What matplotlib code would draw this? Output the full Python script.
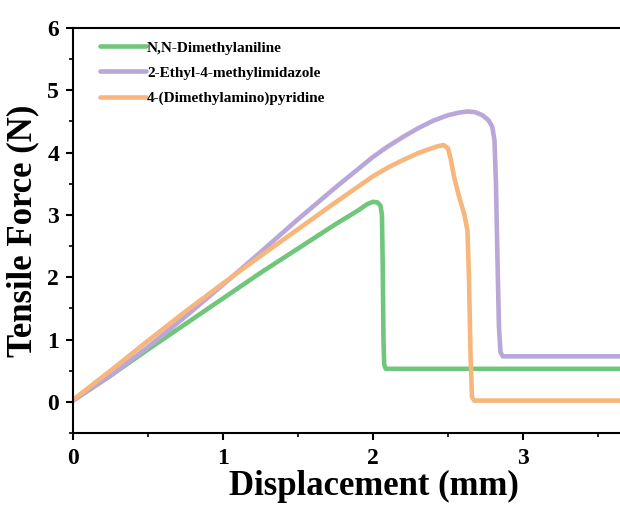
import matplotlib
matplotlib.use("Agg")
import matplotlib.pyplot as plt
from matplotlib.ticker import MultipleLocator

# Tensile force vs displacement for the three curing accelerators
labels = ["N,N-Dimethylaniline", "2-Ethyl-4-methylimidazole", "4-(Dimethylamino)pyridine"]
colors = ["#70c67b", "#b8a7d8", "#f7b67c"]

dma_x = [0, 0.25, 0.5, 0.75, 1.0, 1.25, 1.5, 1.75, 1.9, 1.96, 2.0, 2.03, 2.05, 2.06, 2.065, 2.07, 2.075, 2.085, 3.7]
dma_y = [0.02, 0.42, 0.84, 1.25, 1.66, 2.07, 2.46, 2.85, 3.07, 3.17, 3.21, 3.20, 3.15, 3.0, 2.2, 1.0, 0.6, 0.53, 0.53]

emi_x = [0, 0.25, 0.5, 0.75, 1.0, 1.25, 1.5, 1.75, 2.0, 2.1, 2.2, 2.3, 2.4, 2.5, 2.57, 2.63, 2.68, 2.73, 2.77,
         2.795, 2.81, 2.82, 2.83, 2.84, 2.85, 2.865, 3.7]
emi_y = [0.02, 0.42, 0.88, 1.37, 1.88, 2.40, 2.93, 3.44, 3.93, 4.10, 4.25, 4.39, 4.51, 4.60, 4.64, 4.66, 4.65, 4.60, 4.52,
         4.42, 4.2, 3.5, 2.3, 1.2, 0.8, 0.73, 0.73]

dmap_x = [0, 0.25, 0.5, 0.75, 1.0, 1.25, 1.5, 1.75, 2.0, 2.1, 2.2, 2.3, 2.38, 2.43, 2.47, 2.5, 2.52, 2.54, 2.57, 2.61,
          2.63, 2.64, 2.65, 2.66, 2.675, 3.7]
dmap_y = [0.03, 0.50, 0.98, 1.45, 1.90, 2.34, 2.77, 3.20, 3.62, 3.76, 3.88, 3.99, 4.06, 4.10, 4.12, 4.07, 3.88, 3.62, 3.33, 3.00,
          2.75, 2.0, 0.8, 0.08, 0.02, 0.02]

plt.rcParams["font.family"] = ["Liberation Serif", "DejaVu Serif"]
plt.rcParams["font.weight"] = "bold"

fig = plt.figure(figsize=(6.2, 5.05), dpi=100)
ax = fig.add_axes([0.1177, 0.1426, 0.8823, 0.802])

for xs, ys, lab, c in zip([dma_x, emi_x, dmap_x], [dma_y, emi_y, dmap_y], labels, colors):
    ax.plot(xs, ys, color=c, lw=3.3, label=lab, solid_joinstyle="round", solid_capstyle="round")

ax.set_xlim(0, 3.647)
ax.set_ylim(-0.5, 6)
ax.xaxis.set_major_locator(MultipleLocator(1))
ax.xaxis.set_minor_locator(MultipleLocator(0.5))
ax.yaxis.set_minor_locator(MultipleLocator(0.5))
ax.set_yticks(range(0, 7))

for side in ["left", "bottom", "top"]:
    ax.spines[side].set_linewidth(1.5)
ax.spines["right"].set_visible(False)
ax.tick_params(which="major", direction="out", length=5, width=1.5, labelsize=17, top=False, right=False)
ax.tick_params(which="minor", direction="out", length=3, width=1.2, top=False, right=False)
ax.tick_params(axis="x", which="major", pad=6)
ax.tick_params(axis="y", which="major", pad=5)

ax.set_xlabel("Displacement (mm)", fontsize=25, fontweight="bold")
ax.xaxis.set_label_coords(0.5503, -0.091)
ax.set_ylabel("Tensile Force (N)", fontsize=25, fontweight="bold", labelpad=6)

ax.legend(loc="upper left", bbox_to_anchor=(0.049, 0.968), frameon=False,
          handlelength=3, handletextpad=0.1, labelspacing=0.75, borderpad=0, borderaxespad=0,
          prop={"weight": "bold", "size": 11})

fig.savefig("out.png", dpi=100)
